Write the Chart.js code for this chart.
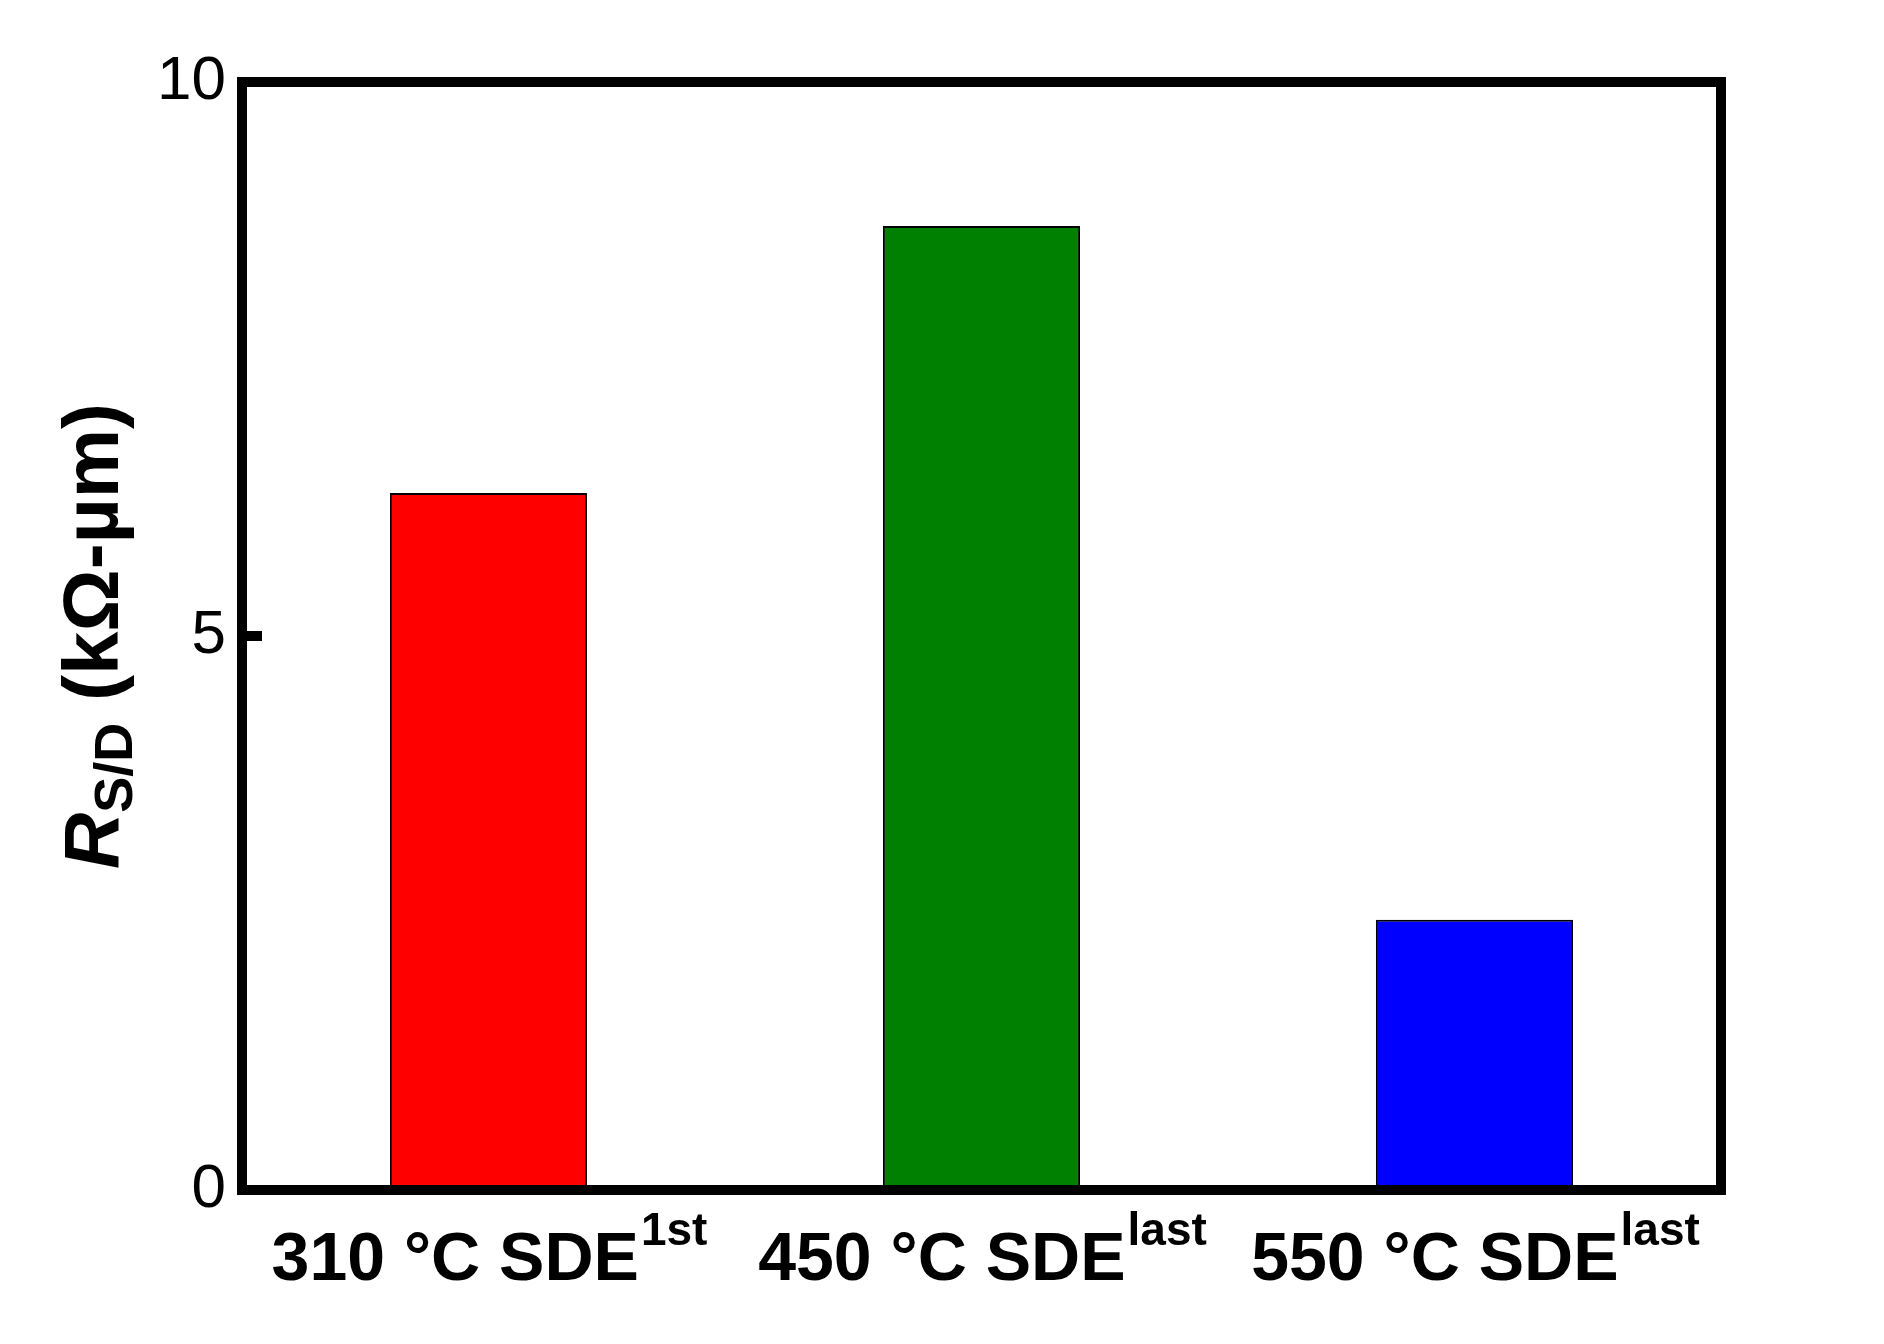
<!DOCTYPE html>
<html>
<head>
<meta charset="utf-8">
<script src="https://cdn.jsdelivr.net/npm/chart.js@4"></script>
<style>
  html, body { margin: 0; padding: 0; background: #fff; }
  #wrap { width: 1884px; height: 1344px; }
</style>
</head>
<body>
<div id="wrap"><canvas id="c"></canvas></div>
<script>
// --- Data ---
const categories = ['310 °C SDE', '450 °C SDE', '550 °C SDE'];
const superscripts = ['1st', 'last', 'last'];
const values = [6.29, 8.70, 2.44];
const barColors = ['#ff0000', '#008000', '#0000ff'];
const yTicks = [0, 5, 10];

const FONT = '"Liberation Sans", Arial, sans-serif';

// --- Frame, ticks and labels drawn on top ---
const decorations = {
    id: 'decorations',
    afterDraw(chart) {
        const c = chart.ctx;
        const { left, right, top, bottom } = chart.chartArea;
        const y = chart.scales.y, x = chart.scales.x;
        c.save();
        c.strokeStyle = '#000';
        c.lineWidth = 10;
        c.strokeRect(left, top, right - left, bottom - top);

        // y ticks
        c.fillStyle = '#000';
        c.font = '62px ' + FONT;
        c.textAlign = 'right';
        c.textBaseline = 'middle';
        yTicks.forEach(v => {
            const py = y.getPixelForValue(v);
            c.beginPath();
            c.moveTo(left, py);
            c.lineTo(left + 20, py);
            c.stroke();
            c.fillText(String(v), left - 16, py);
        });

        // x labels with superscripts
        c.textBaseline = 'alphabetic';
        categories.forEach((cat, i) => {
            const px = x.getPixelForValue(i);
            c.font = 'bold 68px ' + FONT;
            const w1 = c.measureText(cat).width;
            c.font = 'bold 46px ' + FONT;
            const w2 = c.measureText(superscripts[i]).width;
            const start = px - (w1 + w2) / 2;
            c.textAlign = 'left';
            c.font = 'bold 68px ' + FONT;
            c.fillText(cat, start, bottom + 90);
            c.font = 'bold 46px ' + FONT;
            c.fillText(superscripts[i], start + w1 + 2, bottom + 55);
        });

        // y title
        c.translate(118, (top + bottom) / 2);
        c.rotate(-Math.PI / 2);
        const parts = [
            { t: 'R', f: 'italic bold 78px ' + FONT, dy: 0 },
            { t: 'S/D', f: 'bold 54px ' + FONT, dy: 14 },
            { t: ' (kΩ-µm)', f: 'bold 78px ' + FONT, dy: 0 }
        ];
        let total = 0;
        parts.forEach(p => { c.font = p.f; total += c.measureText(p.t).width; });
        let cx = -total / 2;
        c.textAlign = 'left';
        parts.forEach(p => {
            c.font = p.f;
            c.fillText(p.t, cx, p.dy);
            cx += c.measureText(p.t).width;
        });
        c.restore();
    }
};

new Chart(document.getElementById('c'), {
    type: 'bar',
    data: {
        labels: categories,
        datasets: [{
            data: values,
            backgroundColor: barColors,
            borderColor: '#000',
            borderWidth: 2,
            barPercentage: 0.4,
            categoryPercentage: 1.0
        }]
    },
    options: {
        responsive: true,
        maintainAspectRatio: false,
        animation: false,
        layout: { padding: { left: 242, top: 82, right: 163, bottom: 154 } },
        scales: {
            x: { display: false },
            y: { display: false, min: 0, max: 10 }
        },
        plugins: { legend: { display: false }, tooltip: { enabled: false } }
    },
    plugins: [decorations]
});
</script>
</body>
</html>
